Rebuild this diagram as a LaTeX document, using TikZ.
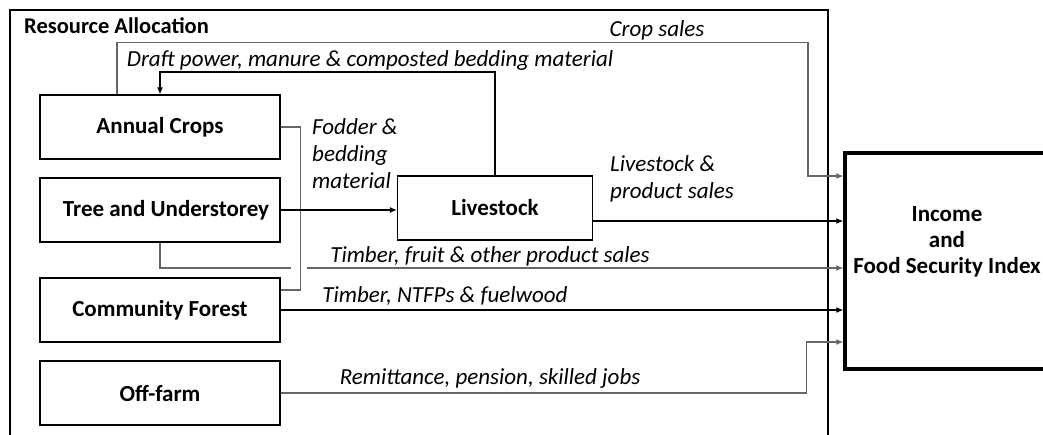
\documentclass[tikz,border=0pt]{standalone}
\usepackage{fontspec}
\setmainfont{Carlito}
\usetikzlibrary{arrows.meta}

\begin{document}
\begin{tikzpicture}[x=1pt,y=-1pt,
  src/.style={draw, line width=1.2pt, minimum width=240pt, minimum height=64pt,
    font=\fontsize{23}{26}\selectfont\bfseries},
  lbl/.style={font=\fontsize{23}{27}\selectfont\itshape, inner sep=0pt},
  flow/.style={line width=1.1pt, -{Latex[length=7pt,width=6pt]}},
  greyflow/.style={flow, draw=black!60}]
\useasboundingbox (0,0) rectangle (1043,434);
\clip (0,0) rectangle (1043,434);
\draw[line width=2pt] (10,450) |- (828,10) -- (828,450);
\node[font=\fontsize{22.5}{26}\selectfont\bfseries, anchor=west, inner sep=0pt] (title) at (24,26) {Resource Allocation};

\node[src] (crops) at (160,127) {Annual Crops};
\node[src] (tree) at (160,210) {\hspace*{12pt}Tree and Understorey};
\node[src] (forest) at (160,310) {Community Forest};
\node[src] (offfarm) at (160,393) {Off-farm};
\node[src, minimum width=195pt] (livestock) at (495,208) {Livestock};
\node[draw, line width=3.5pt, minimum width=240pt, minimum height=216pt] (income) at (965,261) {};
\node[font=\fontsize{23}{26}\selectfont\bfseries, align=center] (incometext) at (947,242) {Income\\and\\Food Security Index};

% crop sales
\draw[greyflow] ([xshift=-43pt]crops.north) -- ++(0,-52) -- ++(691,0) |- ([yshift=85pt]income.west);
% draft power back to crops
\draw[flow, line width=2pt] (livestock.north) -- ++(0,-103) -| (crops.north);
% timber and fruit, with a break where the fodder line crosses
\draw[greyflow] (tree.south) |- ([yshift=-7pt]income.west);
\fill[white] (291,264) rectangle (307,272);
% fodder
\draw[line width=1.1pt, draw=black!60] (crops.east) -- ++(20,0) |- ([yshift=20pt]forest.east);
\draw[flow] (tree.east) -- (tree.east -| livestock.west);
% livestock sales
\draw[flow] ([yshift=-13pt]livestock.east) -- ([yshift=-13pt]livestock.east -| income.west);
% forest products
\draw[flow] (forest.east) -- (forest.east -| income.west);
% off-farm
\draw[greyflow] (offfarm.east) -- ++(526,0) |- ([yshift=-81pt]income.west);

\node[lbl] (cropsales) at (657,30) {Crop sales};
\node[lbl] (draft) at (370,60) {Draft power, manure \& composted bedding material};
\node[lbl, anchor=north west, align=left] (fodder) at (312,118) {Fodder \&\\bedding\\material};
\node[lbl, anchor=north west, align=left] (lssales) at (610,155) {Livestock \&\\product sales};
\node[lbl] (timberfruit) at (490,256) {Timber, fruit \& other product sales};
\node[lbl] (ntfp) at (445,296) {Timber, NTFPs \& fuelwood};
\node[lbl] (remit) at (490,378) {Remittance, pension, skilled jobs};
\end{tikzpicture}
\end{document}
